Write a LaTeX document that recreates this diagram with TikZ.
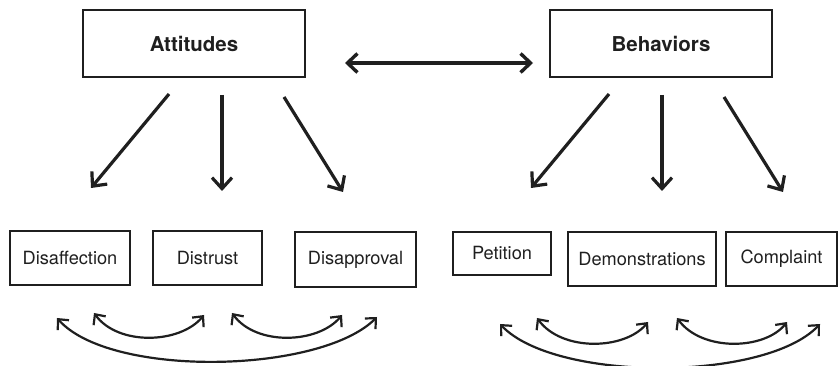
\documentclass[tikz,border=0pt]{standalone}
\usepackage{fontspec}
\setmainfont{TeX Gyre Heros}
\usetikzlibrary{arrows.meta}
\begin{document}
\begin{tikzpicture}[x=1pt,y=-1pt,
  topbox/.style={draw=black!88,line width=1.8pt,inner sep=0pt,font=\fontsize{20.5}{24}\selectfont\bfseries,text=black!88},
  subbox/.style={draw=black!88,line width=1.6pt,inner sep=0pt,font=\fontsize{18.2}{22}\selectfont,text=black!88},
  bigarrow/.style={line width=3.2pt,draw=black!88,-{Straight Barb[length=11pt,width=20pt,line width=3.2pt]}},
  dblarrow/.style={line width=3.4pt,draw=black!88,{Straight Barb[length=10pt,width=19pt,line width=3.4pt]}-{Straight Barb[length=10pt,width=19pt,line width=3.4pt]}},
  curvearrow/.style={line width=2.2pt,draw=black!88,{Straight Barb[length=8pt,width=15pt,line width=2.2pt]}-{Straight Barb[length=8pt,width=15pt,line width=2.2pt]}}
]
\useasboundingbox (0,0) rectangle (839,366);
% top boxes
\node[topbox,minimum width=222pt,minimum height=67pt] (att) at (194,43.5) {Attitudes};
\node[topbox,minimum width=222pt,minimum height=67pt] (beh) at (661,43.5) {Behaviors};
% sub boxes
\node[subbox,minimum width=120pt,minimum height=54pt] (daff) at (70,258) {Disaffection};
\node[subbox,minimum width=109pt,minimum height=54pt] (dtr) at (207.5,258) {Distrust};
\node[subbox,minimum width=121pt,minimum height=55pt] (dapp) at (355.5,259.5) {Disapproval};
\node[subbox,minimum width=98pt,minimum height=43pt] (pet) at (502,253.5) {Petition};
\node[subbox,minimum width=148pt,minimum height=54pt] (dem) at (642,259) {Demonstrations};
\node[subbox,minimum width=111pt,minimum height=54pt] (com) at (781.5,259) {Complaint};
% arrow end points
\coordinate (aL) at (169,94);  \coordinate (aLe) at (91,188);
\coordinate (aM) at (222,95);  \coordinate (aMe) at (222,191);
\coordinate (aR) at (284,97);  \coordinate (aRe) at (343,192);
\coordinate (bL) at (609,94);  \coordinate (bLe) at (531,188);
\coordinate (bM) at (662,95);  \coordinate (bMe) at (662,191);
\coordinate (bR) at (724,97);  \coordinate (bRe) at (783,192);
\coordinate (dA) at (345,63);  \coordinate (dB) at (533,63);
% arrows
\draw[dblarrow] (dA) -- (dB);
\draw[bigarrow] (aL) -- (aLe);
\draw[bigarrow] (aM) -- (aMe);
\draw[bigarrow] (aR) -- (aRe);
\draw[bigarrow] (bL) -- (bLe);
\draw[bigarrow] (bM) -- (bMe);
\draw[bigarrow] (bR) -- (bRe);
% curved arrows, left group
\coordinate (lo1) at (57,318);  \coordinate (lo2) at (377,317);
\coordinate (li1) at (94,313);  \coordinate (li2) at (204,315);
\coordinate (lj1) at (232,313); \coordinate (lj2) at (342,315);
\draw[curvearrow] (lo1) .. controls (110,378) and (320,374) .. (lo2);
\draw[curvearrow] (li1) .. controls (118,346) and (180,344) .. (li2);
\draw[curvearrow] (lj1) .. controls (256,346) and (318,344) .. (lj2);
% curved arrows, right group
\coordinate (ro1) at (500,324); \coordinate (ro2) at (820,324);
\coordinate (ri1) at (537,318); \coordinate (ri2) at (648,322);
\coordinate (rj1) at (677,318); \coordinate (rj2) at (787,322);
\draw[curvearrow] (ro1) .. controls (555,382) and (765,382) .. (ro2);
\draw[curvearrow] (ri1) .. controls (562,352) and (625,350) .. (ri2);
\draw[curvearrow] (rj1) .. controls (702,352) and (765,350) .. (rj2);
\end{tikzpicture}
\end{document}
